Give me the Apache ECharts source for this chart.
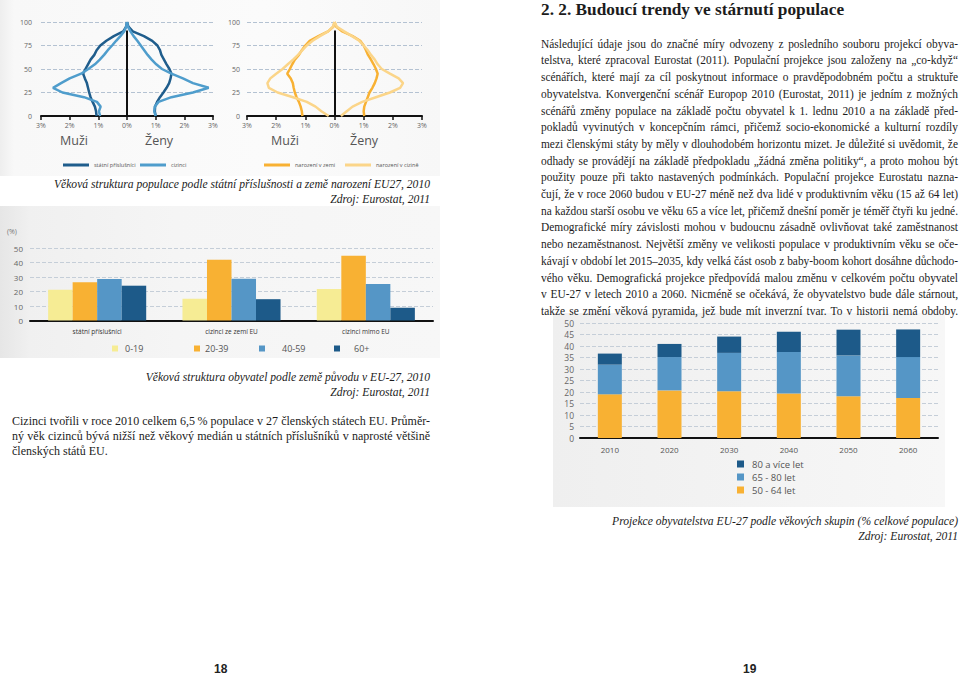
<!DOCTYPE html>
<html><head><meta charset="utf-8">
<script src="https://cdn.jsdelivr.net/npm/echarts@6/dist/echarts.min.js"></script>
<style>
html,body{margin:0;padding:0;width:960px;height:675px;overflow:hidden;background:#fff;}
#chart{position:absolute;left:0;top:0;width:960px;height:675px;z-index:1;}
.bg{position:absolute;z-index:0;}
.t{position:absolute;z-index:2;font-family:"Liberation Serif","DejaVu Serif",serif;color:#1c1c1c;}
.t div{white-space:nowrap;}
.j div{text-align:justify;text-align-last:justify;}
.j div.last{text-align-last:left;}
.cap{font-style:italic;font-size:11.6px;line-height:15px;text-align:right;}
.pg{position:absolute;z-index:2;font-family:"Liberation Sans",sans-serif;font-weight:bold;font-size:12px;color:#222;}
</style></head>
<body>
<div class="bg" style="left:0;top:0;width:440px;height:176px;background:linear-gradient(to right,#eeeeee 0px,#f8f8f8 14px,#fbfbfb 60%,#f7f7f7 100%);"></div>
<div class="bg" style="left:0;top:206px;width:440px;height:152px;background:linear-gradient(to right,#e6e6e6 0px,#f0f0f0 30px,#f5f5f5 40%,#f7f7f7 100%);"></div>
<div class="bg" style="left:553px;top:313px;width:392px;height:194px;background:linear-gradient(to right,#efefef 0%,#f3f3f3 50%,#f7f7f7 100%);"></div>
<div id="chart"></div>

<div class="t cap" style="left:0;top:176.5px;width:430px;">
<div>Věková struktura populace podle státní příslušnosti a země narození EU27, 2010</div>
<div>Zdroj: Eurostat, 2011</div></div>

<div class="t cap" style="left:0;top:369.5px;width:430px;">
<div>Věková struktura obyvatel podle země původu v EU-27, 2010</div>
<div>Zdroj: Eurostat, 2011</div></div>

<div class="t j fit" style="left:12px;top:414px;width:418px;font-size:12.5px;line-height:15px;">
<div>Cizinci tvořili v roce 2010 celkem 6,5&#8239;% populace v 27 členských státech EU. Průměr-</div>
<div>ný věk cizinců bývá nižší než věkový medián u státních příslušníků v naprosté většině</div>
<div class="last">členských států EU.</div></div>

<div class="t" style="left:541px;top:0;font-size:17.3px;line-height:20px;font-weight:bold;">2. 2. Budoucí trendy ve stárnutí populace</div>

<div class="t j fit" style="left:541px;top:35.7px;width:417px;font-size:12.5px;line-height:16.7px;">
<div>Následující údaje jsou do značné míry odvozeny z posledního souboru projekcí obyva-</div>
<div>telstva, které zpracoval Eurostat (2011). Populační projekce jsou založeny na „co-když“</div>
<div>scénářích, které mají za cíl poskytnout informace o pravděpodobném počtu a struktuře</div>
<div>obyvatelstva. Konvergenční scénář Europop 2010 (Eurostat, 2011) je jedním z možných</div>
<div>scénářů změny populace na základě počtu obyvatel k 1. lednu 2010 a na základě před-</div>
<div>pokladů vyvinutých v koncepčním rámci, přičemž socio-ekonomické a kulturní rozdíly</div>
<div>mezi členskými státy by měly v dlouhodobém horizontu mizet. Je důležité si uvědomit, že</div>
<div>odhady se provádějí na základě předpokladu „žádná změna politiky“, a proto mohou být</div>
<div>použity pouze při takto nastavených podmínkách. Populační projekce Eurostatu nazna-</div>
<div>čují, že v roce 2060 budou v EU-27 méně než dva lidé v produktivním věku (15 až 64 let)</div>
<div>na každou starší osobu ve věku 65 a více let, přičemž dnešní poměr je téměř čtyři ku jedné.</div>
<div>Demografické míry závislosti mohou v budoucnu zásadně ovlivňovat také zaměstnanost</div>
<div>nebo nezaměstnanost. Největší změny ve velikosti populace v produktivním věku se oče-</div>
<div>kávají v období let 2015–2035, kdy velká část osob z baby-boom kohort dosáhne důchodo-</div>
<div>vého věku. Demografická projekce předpovídá malou změnu v celkovém počtu obyvatel</div>
<div>v EU-27 v letech 2010 a 2060. Nicméně se očekává, že obyvatelstvo bude dále stárnout,</div>
<div>takže se změní věková pyramida, jež bude mít inverzní tvar. To v historii nemá obdoby.</div></div>

<div class="t cap" style="left:540px;top:514px;width:418px;">
<div>Projekce obyvatelstva EU-27 podle věkových skupin (% celkové populace)</div>
<div>Zdroj: Eurostat, 2011</div></div>

<div class="pg" style="left:214px;top:662px;">18</div>
<div class="pg" style="left:743px;top:662px;">19</div>

<script>
// ---------- data ----------
const ages = [0,5,10,15,20,25,30,35,40,45,50,55,60,65,70,75,80,85,90,95,100];
// Pyramid 1: státní příslušníci / cizinci (% of population)
const nationalsMen   = [1.06,1.08,1.12,1.20,1.27,1.32,1.36,1.40,1.47,1.53,1.45,1.36,1.27,1.14,1.06,0.93,0.72,0.46,0.13,0.03,0];
const nationalsWomen = [1.00,0.97,0.98,1.05,1.15,1.27,1.38,1.47,1.52,1.55,1.48,1.38,1.29,1.20,1.15,1.06,0.88,0.59,0.20,0.05,0];
const foreignMen     = [0.94,0.98,0.92,1.05,1.50,2.25,2.58,2.30,2.00,1.60,1.35,1.12,0.95,0.80,0.67,0.52,0.38,0.23,0.10,0.03,0];
const foreignWomen   = [1.00,0.95,0.97,1.10,1.55,2.30,2.85,2.30,1.95,1.55,1.22,1.02,0.86,0.72,0.60,0.48,0.36,0.23,0.12,0.03,0];
// Pyramid 2: narození v zemi / narození v cizině
const nativeMen      = [1.10,1.12,1.16,1.22,1.30,1.36,1.40,1.43,1.50,1.62,1.53,1.45,1.36,1.22,1.12,1.00,0.85,0.55,0.22,0.04,0];
const nativeWomen    = [1.02,1.00,1.02,1.08,1.14,1.20,1.30,1.38,1.44,1.48,1.42,1.34,1.25,1.15,1.08,1.00,0.88,0.62,0.27,0.06,0];
const abroadMen      = [0.20,0.45,0.65,0.95,1.42,1.95,2.25,2.30,2.20,2.00,1.78,1.60,1.42,1.25,1.10,0.95,0.75,0.50,0.22,0.05,0];
const abroadWomen    = [0.22,0.42,0.62,0.95,1.42,1.90,2.25,2.35,2.20,1.90,1.62,1.48,1.38,1.25,1.14,1.00,0.85,0.60,0.33,0.08,0];
// Bar chart: age structure by origin
const groups   = ['státní příslušníci','cizinci ze zemí EU','cizinci mimo EU'];
const age0_19  = [21.2,15.0,21.7];
const age20_39 = [26.3,41.9,44.7];
const age40_59 = [28.6,28.8,25.1];
const age60p   = [24.0,14.7,8.8];
// Stacked projection chart
const years    = ['2010','2020','2030','2040','2050','2060'];
const age50_64 = [19.0,20.7,20.3,19.3,18.1,17.4];
const age65_80 = [12.9,14.5,16.7,18.1,17.8,17.8];
const age80p   = [4.8,5.7,7.1,8.8,11.2,12.0];

// ---------- styles ----------
const C = {dark:'#1d5a89', mid:'#5596c6', light:'#4f9dcc', navy:'#1f5d8c', orange:'#f8b133', paleOr:'#fbd589', yellow:'#f6ec94'};
const lbl = {color:'#666', fontFamily:'Open Sans, sans-serif'};

function pairs(vals, sign){ return vals.map((v,i)=>[sign*v, ages[i]]); }
function pyrX(grid){ return {type:'value', gridIndex:grid, min:-3, max:3, interval:1,
  axisLine:{show:true, onZero:false, lineStyle:{color:'#111', width:2}},
  axisTick:{show:true, length:4, lineStyle:{color:'#111', width:1.5}},
  splitLine:{show:false},
  axisLabel:Object.assign({fontSize:7, margin:6, formatter:v=>Math.abs(v)+'%'}, lbl)}; }
function pyrY(grid, m){ return {type:'value', gridIndex:grid, min:0, max:100, interval:25,
  axisLine:{show:false}, axisTick:{show:false},
  splitLine:{show:true, lineStyle:{color:'#b4c2d2', type:'dashed', width:1}},
  axisLabel:Object.assign({fontSize:7, margin:m}, lbl)}; }
function pyrLine(name, data, color, xi, extra){
  return Object.assign({type:'line', name, xAxisIndex:xi, yAxisIndex:xi, data, symbol:'none',
    lineStyle:{color, width:2.5}, itemStyle:{color}, z:3}, extra||{}); }
const vline = {markLine:{silent:true, symbol:'none', label:{show:false},
  lineStyle:{color:'#111', width:2, type:'solid'}, data:[[{coord:[0,0]},{coord:[0,91]}]]}};

function lineLegend(name, left, top){ return {data:[name], left, top, padding:0, icon:'rect',
  itemWidth:26, itemHeight:3, selectedMode:false, textStyle:{fontSize:5.5, color:'#555', fontFamily:'Open Sans, sans-serif'}}; }
function boxLegend(name, left, top, pad){ return {data:[name], left, top, padding:0, icon:'rect',
  itemWidth:6, itemHeight:6, selectedMode:false,
  textStyle:{fontSize:9, color:'#555', padding:[0,0,0,pad], fontFamily:'Open Sans, sans-serif'}}; }

const chart = echarts.init(document.getElementById('chart'), null, {renderer:'svg'});
chart.setOption({
  animation:false,
  backgroundColor:'transparent',
  grid:[
    {left:41, top:22, width:172, height:94},
    {left:247, top:22, width:175, height:94},
    {left:30, top:248, width:403, height:72.5},
    {left:580, top:323, width:358, height:115}
  ],
  xAxis:[
    pyrX(0), pyrX(1),
    {type:'category', gridIndex:2, data:groups,
      axisLine:{lineStyle:{color:'#111', width:2}}, axisTick:{length:4, lineStyle:{color:'#111', width:1.5}},
      axisLabel:{fontSize:6.5, color:'#333', margin:7, fontFamily:'Open Sans, sans-serif'}},
    {type:'category', gridIndex:3, data:years,
      axisLine:{lineStyle:{color:'#111', width:2}}, axisTick:{length:4, lineStyle:{color:'#111', width:1.5}},
      axisLabel:{fontSize:8, color:'#555', margin:7, fontFamily:'Open Sans, sans-serif'}}
  ],
  yAxis:[
    pyrY(0, 9), pyrY(1, 7),
    {type:'value', gridIndex:2, min:0, max:50, interval:10,
      axisLine:{show:false}, axisTick:{show:false},
      splitLine:{lineStyle:{color:'#c5ced8', type:'dashed'}},
      axisLabel:Object.assign({fontSize:8, margin:7}, lbl)},
    {type:'value', gridIndex:3, min:0, max:50, interval:5,
      axisLine:{show:false}, axisTick:{show:false},
      splitLine:{lineStyle:{color:'#c5ced8', type:'dashed'}},
      axisLabel:Object.assign({fontSize:8.5, margin:6}, lbl)}
  ],
  legend:[
    lineLegend('státní příslušníci', 63, 162),
    lineLegend('cizinci', 140, 162),
    lineLegend('narození v zemi', 264, 162),
    lineLegend('narození v cizině', 345, 162),
    boxLegend('0-19', 112, 344, 2),
    boxLegend('20-39', 194, 344, 0),
    boxLegend('40-59', 259, 344, 12),
    boxLegend('60+', 334, 344, 9),
    {data:['80 a více let','65 - 80 let','50 - 64 let'], orient:'vertical', left:737, top:459,
      padding:0, itemGap:3, icon:'rect', itemWidth:7, itemHeight:7, selectedMode:false,
      textStyle:{fontSize:9.5, color:'#555', padding:[0,0,0,3], fontFamily:'Open Sans, sans-serif'}}
  ],
  graphic:[
    {type:'text', left:60, top:134, style:{text:'Muži', fontSize:12.5, fill:'#555', fontFamily:'Open Sans, sans-serif'}},
    {type:'text', left:145, top:134, style:{text:'Ženy', fontSize:12.5, fill:'#555', fontFamily:'Open Sans, sans-serif'}},
    {type:'text', left:271, top:134, style:{text:'Muži', fontSize:12.5, fill:'#555', fontFamily:'Open Sans, sans-serif'}},
    {type:'text', left:350, top:134, style:{text:'Ženy', fontSize:12.5, fill:'#555', fontFamily:'Open Sans, sans-serif'}},
    {type:'text', left:7, top:228, style:{text:'(%)', fontSize:7, fill:'#777', fontFamily:'Open Sans, sans-serif'}}
  ],
  series:[
    pyrLine('státní příslušníci', pairs(nationalsMen,-1), C.navy, 0, vline),
    pyrLine('státní příslušníci', pairs(nationalsWomen,1), C.navy, 0),
    pyrLine('cizinci', pairs(foreignMen,-1), C.light, 0),
    pyrLine('cizinci', pairs(foreignWomen,1), C.light, 0),
    pyrLine('narození v zemi', pairs(nativeMen,-1), C.orange, 1, vline),
    pyrLine('narození v zemi', pairs(nativeWomen,1), C.orange, 1),
    pyrLine('narození v cizině', pairs(abroadMen,-1), C.paleOr, 1),
    pyrLine('narození v cizině', pairs(abroadWomen,1), C.paleOr, 1),

    {type:'bar', name:'0-19', xAxisIndex:2, yAxisIndex:2, data:age0_19, itemStyle:{color:C.yellow}, barGap:0, barCategoryGap:'27%'},
    {type:'bar', name:'20-39', xAxisIndex:2, yAxisIndex:2, data:age20_39, itemStyle:{color:C.orange}, barGap:0, barCategoryGap:'27%'},
    {type:'bar', name:'40-59', xAxisIndex:2, yAxisIndex:2, data:age40_59, itemStyle:{color:C.mid}, barGap:0, barCategoryGap:'27%'},
    {type:'bar', name:'60+', xAxisIndex:2, yAxisIndex:2, data:age60p, itemStyle:{color:C.dark}, barGap:0, barCategoryGap:'27%'},

    {type:'bar', name:'50 - 64 let', xAxisIndex:3, yAxisIndex:3, stack:'p', data:age50_64, barWidth:24, itemStyle:{color:C.orange}},
    {type:'bar', name:'65 - 80 let', xAxisIndex:3, yAxisIndex:3, stack:'p', data:age65_80, barWidth:24, itemStyle:{color:C.mid}},
    {type:'bar', name:'80 a více let', xAxisIndex:3, yAxisIndex:3, stack:'p', data:age80p, barWidth:24, itemStyle:{color:C.dark}}
  ]
});

// fit justified text blocks: condense horizontally (keeping glyph height) so each line fits its column
document.querySelectorAll('.fit').forEach(block=>{
  const w = block.clientWidth;
  let maxW = 0;
  block.querySelectorAll('div').forEach(d=>{
    const s = document.createElement('span');
    s.style.whiteSpace='nowrap';
    s.textContent = d.textContent;
    d.textContent=''; d.appendChild(s);
    maxW = Math.max(maxW, s.getBoundingClientRect().width);
  });
  if (maxW > w) {
    const k = w / maxW * 0.997;
    block.style.width = (w / k) + 'px';
    block.style.transformOrigin = 'left top';
    block.style.transform = 'scaleX(' + k + ')';
  }
});
</script>
</body></html>
